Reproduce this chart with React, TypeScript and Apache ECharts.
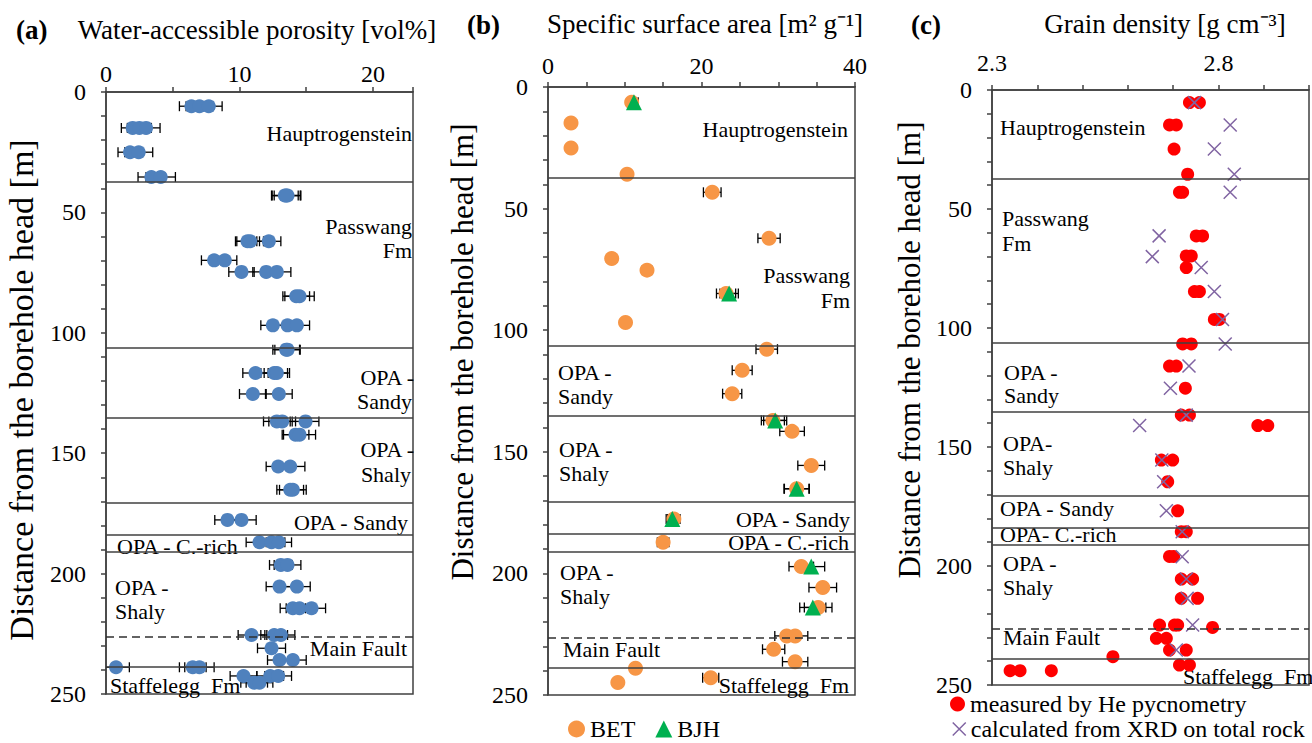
import React, { useEffect, useRef } from 'react';
import * as echarts from 'echarts';

const FONT = "'Liberation Serif', 'Times New Roman', serif";
const AXIS = '#404040';

// Formation boundaries (depth, m)
const boundaryDepths = [37.3, 106.3, 135.3, 170.5, 183.8, 191.1, 238.8];
const faultDepth = 226.3;

// (a) water-accessible porosity: [vol%, depth m, error]
const porosity = [
  [6.4, 5.9, 0.9], [7.0, 5.9, 1.0], [7.7, 5.9, 1.0],
  [2.0, 14.9, 0.85], [2.5, 14.9, 0.9], [3.0, 14.9, 1.05],
  [1.8, 25.0, 0.9], [2.45, 25.0, 1.05],
  [3.4, 35.3, 1.0], [4.1, 35.3, 1.1],
  [13.4, 43.0, 1.0], [13.6, 43.0, 1.0], [13.5, 43.0, 1.05],
  [10.6, 62.0, 0.9], [10.8, 62.0, 1.0], [12.2, 62.0, 0.9],
  [8.1, 69.9, 0.95], [8.9, 69.9, 0.9],
  [10.15, 74.7, 0.95], [12.0, 74.7, 1.0], [12.8, 74.7, 1.05],
  [14.25, 84.8, 1.0], [14.5, 84.8, 1.1],
  [12.5, 96.9, 0.9], [13.6, 96.9, 1.0], [14.3, 96.9, 0.95],
  [13.5, 107.0, 1.0], [13.6, 107.0, 0.95],
  [11.2, 116.7, 0.95], [12.6, 116.7, 1.0], [12.8, 116.7, 0.95],
  [11.0, 125.4, 1.0], [12.95, 125.4, 1.0],
  [12.8, 136.8, 1.0], [13.2, 136.8, 1.0], [14.95, 136.8, 1.0],
  [14.2, 142.3, 1.0], [14.5, 142.3, 1.2],
  [12.9, 155.5, 0.9], [13.8, 155.5, 1.1],
  [13.8, 165.2, 1.0], [14.0, 165.2, 1.0],
  [9.1, 177.7, 0.95], [10.15, 177.7, 1.1],
  [11.5, 187.0, 1.0], [12.4, 187.0, 1.0], [12.95, 187.0, 0.95],
  [13.1, 196.4, 0.85], [13.6, 196.4, 1.0],
  [13.0, 205.4, 1.0], [14.3, 205.4, 1.0],
  [14.0, 214.4, 0.95], [14.5, 214.4, 1.0], [15.4, 214.4, 1.05],
  [10.9, 225.5, 1.0], [12.6, 225.5, 1.0], [13.1, 225.5, 1.05],
  [12.4, 231.0, 1.05],
  [13.0, 235.9, 0.9], [14.0, 235.9, 1.0],
  [0.75, 238.9, 1.0], [6.5, 238.9, 1.0], [7.0, 238.9, 1.1],
  [10.3, 242.5, 1.0], [12.3, 242.5, 1.0], [12.9, 242.5, 1.0],
  [11.1, 245.3, 1.0], [11.5, 245.3, 1.0],
];

// (b) specific surface area: [m2/g, depth m, error]
const bet = [
  [10.9, 6.3, 0.5], [3.0, 14.8, 0.15], [3.0, 25.1, 0.15], [10.3, 35.9, 0.5],
  [21.4, 43.3, 1.15], [28.8, 62.2, 1.45], [8.3, 70.5, 0.4], [12.9, 75.3, 0.6],
  [23.2, 84.9, 1.25], [10.1, 96.8, 0.5], [28.5, 107.8, 1.4], [25.3, 116.5, 1.3],
  [24.0, 126.1, 1.25], [29.3, 137.1, 1.5], [31.8, 141.6, 1.6], [34.3, 155.6, 1.75],
  [32.4, 165.2, 1.65], [16.4, 177.6, 0.8], [15.0, 187.2, 0.75], [33.0, 197.2, 1.6],
  [35.8, 205.8, 1.8], [35.2, 214.0, 1.8], [31.1, 225.7, 1.55], [32.2, 225.7, 1.65],
  [29.4, 231.2, 1.45], [32.2, 236.3, 1.65], [11.4, 239.0, 0.55], [21.2, 242.9, 1.05],
  [9.1, 244.9, 0.45],
];
const bjh = [
  [11.2, 6.3, 0.55], [23.6, 84.9, 1.2], [29.6, 137.1, 1.5], [32.4, 165.2, 1.6],
  [16.2, 177.6, 0.8], [34.3, 197.2, 1.75], [34.5, 214.0, 1.7],
];

// (c) grain density: [g/cm3, depth m]
const hePycnometry = [
  [2.736, 5.3], [2.758, 5.3], [2.692, 14.7], [2.707, 14.7], [2.702, 24.8],
  [2.732, 35.4], [2.714, 43.0], [2.721, 43.0], [2.751, 61.3], [2.765, 61.3],
  [2.729, 69.7], [2.740, 69.7], [2.729, 74.6], [2.747, 84.7], [2.758, 84.7],
  [2.791, 96.4], [2.802, 96.4], [2.721, 106.7], [2.740, 106.7], [2.692, 116.0],
  [2.707, 116.0], [2.727, 125.3], [2.718, 136.6], [2.736, 136.6], [2.887, 141.0],
  [2.909, 141.0], [2.674, 155.5], [2.699, 155.5], [2.688, 164.6], [2.710, 176.8],
  [2.718, 185.6], [2.729, 185.6], [2.692, 196.0], [2.701, 196.0], [2.718, 205.5],
  [2.743, 205.5], [2.718, 213.6], [2.754, 213.6], [2.670, 224.8], [2.703, 224.8],
  [2.710, 224.8], [2.787, 225.8], [2.663, 230.4], [2.685, 230.4], [2.692, 235.3],
  [2.729, 235.3], [2.567, 238.1], [2.714, 241.6], [2.736, 241.6], [2.340, 244.0],
  [2.362, 244.0], [2.431, 244.0],
];
const xrdDensity = [
  [2.747, 5.3], [2.826, 14.7], [2.791, 24.8], [2.835, 35.4], [2.826, 43.0],
  [2.669, 61.3], [2.654, 70.0], [2.762, 74.6], [2.791, 84.7], [2.809, 96.4],
  [2.815, 106.7], [2.735, 116.0], [2.694, 125.3], [2.729, 136.6], [2.626, 141.0],
  [2.675, 155.5], [2.679, 164.6], [2.685, 176.8], [2.720, 185.6], [2.720, 196.1],
  [2.729, 205.5], [2.731, 213.6], [2.743, 224.8], [2.707, 235.3],
];

const CROSS = 'path://M0,0L10,10M0,10L10,0';

function yAxisCfg(gridIndex: number) {
  return {
    type: 'value', gridIndex, inverse: true, min: 0, max: 250, interval: 10,
    axisLine: { show: true, onZero: false, lineStyle: { color: AXIS, width: 1.5 } },
    axisTick: { show: true, length: 5, lineStyle: { color: AXIS, width: 1.5 } },
    axisLabel: {
      formatter: (v: number) => (v % 50 === 0 ? String(v) : ''),
      fontFamily: FONT, fontSize: 24, color: '#000', margin: 20,
    },
    splitLine: { show: false },
  };
}

function xAxisCfg(gridIndex: number, min: number, max: number, interval: number, fmt: (v: number) => string, margin: number) {
  return {
    type: 'value', gridIndex, position: 'top', min, max, interval,
    axisLine: { show: true, onZero: false, lineStyle: { color: AXIS, width: 1.5 } },
    axisTick: { show: true, length: 5, lineStyle: { color: AXIS, width: 1.5 } },
    axisLabel: { formatter: fmt, fontFamily: FONT, fontSize: 24, color: '#000', margin },
    splitLine: { show: false },
  };
}

function errSeries(rows: number[][], idx: number) {
  return {
    type: 'custom', xAxisIndex: idx, yAxisIndex: idx, z: 1, clip: true, silent: true,
    encode: { x: [0, 1], y: 2 },
    data: rows.map((r) => [r[0] - r[2], r[0] + r[2], r[1]]),
    renderItem: (params: any, api: any) => {
      const p1 = api.coord([api.value(0), api.value(2)]);
      const p2 = api.coord([api.value(1), api.value(2)]);
      const h = 5;
      const style = { stroke: '#000', lineWidth: 1.3 };
      return {
        type: 'group',
        children: [
          { type: 'line', shape: { x1: p1[0], y1: p1[1], x2: p2[0], y2: p2[1] }, style },
          { type: 'line', shape: { x1: p1[0], y1: p1[1] - h, x2: p1[0], y2: p1[1] + h }, style },
          { type: 'line', shape: { x1: p2[0], y1: p2[1] - h, x2: p2[0], y2: p2[1] + h }, style },
        ],
      };
    },
  };
}

function boundaryLines() {
  return {
    silent: true,
    symbol: ['none', 'none'],
    label: { show: false },
    lineStyle: { color: AXIS, width: 1.5, type: 'solid' },
    data: [
      ...boundaryDepths.map((d) => ({ yAxis: d })),
      { yAxis: faultDepth, lineStyle: { type: [8, 5], color: '#303030', width: 1.5 } },
    ],
  };
}

function txt(text: string, x: number, y: number, o: any = {}) {
  return {
    type: 'text', x, y, silent: true, rotation: o.rot || 0,
    style: {
      text, fill: '#000',
      font: `${o.weight || 'normal'} ${o.size || 22}px ${FONT}`,
      align: o.align || 'left', verticalAlign: 'middle',
    },
  };
}

const YNAME = 'Distance from the borehole head [m]';
const legendText = { fontFamily: FONT, fontSize: 24, color: '#000', lineHeight: 22 };

export default function App() {
  const ref = useRef<HTMLDivElement>(null);
  useEffect(() => {
    if (!ref.current) return;
    const chart = echarts.init(ref.current, null, { renderer: 'svg' });
    const gridBase = { show: true, borderColor: AXIS, borderWidth: 1.5, backgroundColor: 'transparent' };
    const option: any = {
      animation: false,
      backgroundColor: '#ffffff',
      grid: [
        { ...gridBase, left: 106, top: 92, width: 307, height: 602 },
        { ...gridBase, left: 548, top: 87, width: 307, height: 608 },
        { ...gridBase, left: 992, top: 90, width: 318, height: 595 },
      ],
      xAxis: [
        xAxisCfg(0, 0, 23, 5, (v) => (v % 10 === 0 ? String(v) : ''), 6),
        xAxisCfg(1, 0, 40, 5, (v) => (v % 20 === 0 ? String(v) : ''), 9),
        xAxisCfg(2, 2.3, 3.0, 0.1, (v) => (Math.round(v * 10) % 5 === 3 ? v.toFixed(1) : ''), 15),
      ],
      yAxis: [yAxisCfg(0), yAxisCfg(1), yAxisCfg(2)],
      legend: [
        {
          data: [{ name: 'BET', icon: 'circle' }, { name: 'BJH', icon: 'triangle' }],
          left: 568, top: 717, padding: 0, itemWidth: 17, itemHeight: 17, itemGap: 20, selectedMode: false,
          textStyle: legendText,
        },
        {
          data: [{ name: 'measured by He pycnometry', icon: 'circle' }],
          left: 950, top: 692, padding: 0, itemWidth: 15, itemHeight: 15, selectedMode: false,
          textStyle: legendText,
        },
        {
          data: [{
            name: 'calculated from XRD on total rock', icon: CROSS,
            itemStyle: { color: '#8064A2', borderColor: '#8064A2', borderWidth: 1.5 },
          }],
          left: 952, top: 717, padding: 0, itemWidth: 13, itemHeight: 13, selectedMode: false,
          textStyle: legendText,
        },
      ],
      series: [
        errSeries(porosity, 0),
        {
          name: 'Water-accessible porosity', type: 'scatter', xAxisIndex: 0, yAxisIndex: 0, z: 2,
          symbol: 'circle', symbolSize: 14, itemStyle: { color: '#4F81BD', opacity: 1 },
          data: porosity.map((r) => [r[0], r[1]]),
          markLine: boundaryLines(),
        },
        errSeries(bet, 1),
        errSeries(bjh, 1),
        {
          name: 'BET', type: 'scatter', xAxisIndex: 1, yAxisIndex: 1, z: 2,
          symbol: 'circle', symbolSize: 15, itemStyle: { color: '#F79646', opacity: 1 },
          data: bet.map((r) => [r[0], r[1]]),
          markLine: boundaryLines(),
        },
        {
          name: 'BJH', type: 'scatter', xAxisIndex: 1, yAxisIndex: 1, z: 3,
          symbol: 'triangle', symbolSize: 16, itemStyle: { color: '#00B050', opacity: 1 },
          data: bjh.map((r) => [r[0], r[1]]),
        },
        {
          name: 'measured by He pycnometry', type: 'scatter', xAxisIndex: 2, yAxisIndex: 2, z: 2,
          symbol: 'circle', symbolSize: 13, itemStyle: { color: '#FF0000', opacity: 1 },
          data: hePycnometry,
          markLine: boundaryLines(),
        },
        {
          name: 'calculated from XRD on total rock', type: 'scatter', xAxisIndex: 2, yAxisIndex: 2, z: 3,
          symbol: CROSS, symbolSize: 13,
          itemStyle: { color: '#8064A2', borderColor: '#8064A2', borderWidth: 1.5, opacity: 1 },
          data: xrdDensity,
        },
      ],
      graphic: [
        // titles
        txt('(a)', 16, 30, { weight: 'bold', size: 27 }),
        txt('Water-accessible porosity [vol%]', 257, 30, { size: 27, align: 'center' }),
        txt('(b)', 467, 25, { weight: 'bold', size: 27 }),
        txt('Specific surface area [m² g⁻¹]', 705, 24, { size: 27, align: 'center' }),
        txt('(c)', 911, 25, { weight: 'bold', size: 27 }),
        txt('Grain density [g cm⁻³]', 1165, 24, { size: 27, align: 'center' }),
        // y axis names
        txt(YNAME, 21, 390, { size: 34, align: 'center', rot: Math.PI / 2 }),
        txt(YNAME, 462, 352, { size: 31, align: 'center', rot: Math.PI / 2 }),
        txt(YNAME, 909, 350, { size: 31, align: 'center', rot: Math.PI / 2 }),
        // panel (a) labels
        txt('Hauptrogenstein', 412, 133, { align: 'right' }),
        txt('Passwang', 412, 226, { align: 'right' }),
        txt('Fm', 412, 250, { align: 'right' }),
        txt('OPA -', 414, 377, { align: 'right' }),
        txt('Sandy', 412, 401, { align: 'right' }),
        txt('OPA -', 414, 449, { align: 'right' }),
        txt('Shaly', 411, 474, { align: 'right' }),
        txt('OPA - Sandy', 408, 522, { align: 'right' }),
        txt('OPA - C.-rich', 117, 546),
        txt('OPA -', 115, 587),
        txt('Shaly', 115, 611),
        txt('Main Fault', 407, 648, { align: 'right' }),
        txt('Staffelegg  Fm', 110, 685),
        // panel (b) labels
        txt('Hauptrogenstein', 848, 129, { align: 'right' }),
        txt('Passwang', 850, 275, { align: 'right' }),
        txt('Fm', 850, 300, { align: 'right' }),
        txt('OPA -', 558, 372),
        txt('Sandy', 558, 396),
        txt('OPA -', 559, 449),
        txt('Shaly', 559, 473),
        txt('OPA - Sandy', 850, 519, { align: 'right' }),
        txt('OPA - C.-rich', 849, 542, { align: 'right' }),
        txt('OPA -', 560, 572),
        txt('Shaly', 560, 596),
        txt('Main Fault', 563, 649),
        txt('Staffelegg  Fm', 849, 685, { align: 'right' }),
        // panel (c) labels
        txt('Hauptrogenstein', 1000, 127),
        txt('Passwang', 1002, 218),
        txt('Fm', 1002, 243),
        txt('OPA -', 1004, 372),
        txt('Sandy', 1004, 395),
        txt('OPA-', 1003, 443),
        txt('Shaly', 1003, 467),
        txt('OPA - Sandy', 1000, 508),
        txt('OPA- C.-rich', 1000, 534),
        txt('OPA -', 1003, 563),
        txt('Shaly', 1003, 587),
        txt('Main Fault', 1003, 637),
        txt('Staffelegg  Fm', 1183, 676),
      ],
    };
    chart.setOption(option);
    return () => chart.dispose();
  }, []);
  return (
    <div
      ref={ref}
      style={{ position: 'fixed', left: 0, top: 0, width: 1312, height: 743, background: '#fff' }}
    />
  );
}
